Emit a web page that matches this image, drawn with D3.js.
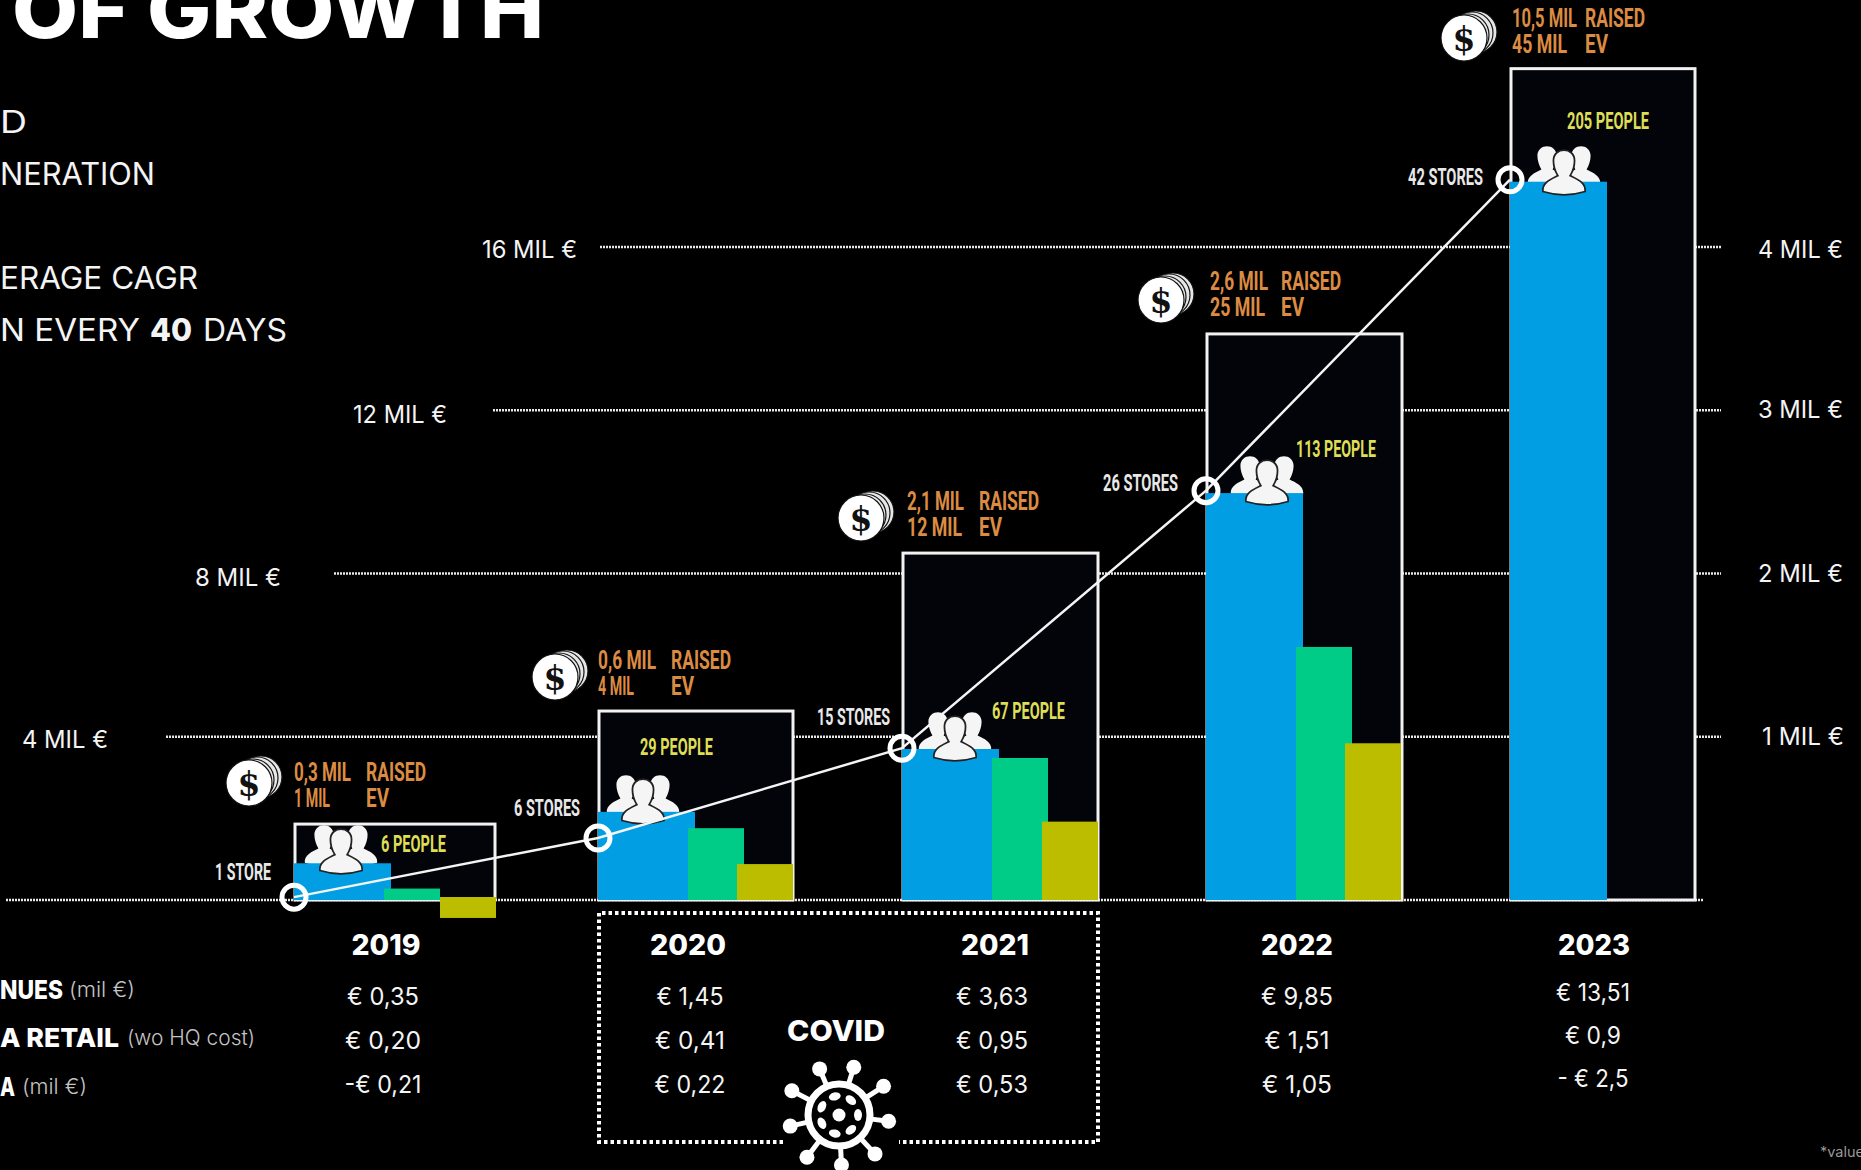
<!DOCTYPE html>
<html><head><meta charset="utf-8">
<script src="https://cdn.jsdelivr.net/npm/d3@7"></script>
<style>html,body{margin:0;padding:0;background:#000;overflow:hidden}svg{display:block}</style>
</head><body><svg id="c" width="1861" height="1170"></svg>
<script>
// ---------- data ----------
const years = ["2019","2020","2021","2022","2023"];
const revenueBar = [0.9,2.16,3.7,9.97,17.6];        // left axis, mil €
const ebitdaRetailBar = [0.07,0.44,0.87,1.55,null]; // right axis, mil €
const ebitdaBar = [-0.11,0.22,0.48,0.96,null];      // right axis, mil €
const evBox = [1.86,4.63,8.5,13.87,20.37];          // box tops on left axis
const storeLine = [0.07,1.52,3.72,10.03,17.65];     // left axis
const stores = ["1 STORE","6 STORES","15 STORES","26 STORES","42 STORES"];
const people = ["6 PEOPLE","29 PEOPLE","67 PEOPLE","113 PEOPLE","205 PEOPLE"];
const raised = ["0,3 MIL","0,6 MIL","2,1 MIL","2,6 MIL","10,5 MIL"];
const ev = ["1 MIL","4 MIL","12 MIL","25 MIL","45 MIL"];
const revenueRow = ["€ 0,35","€ 1,45","€ 3,63","€ 9,85","€ 13,51"];
const retailRow = ["€ 0,20","€ 0,41","€ 0,95","€ 1,51","€ 0,9"];
const ebitdaRow = ["-€ 0,21","€ 0,22","€ 0,53","€ 1,05","- € 2,5"];
const leftTicks = [4,8,12,16];
const rightTicks = [1,2,3,4];

// ---------- layout ----------
const W=1861,H=1170, y0=900;
const C={blue:"#019ee3",green:"#00cc88",olive:"#bdbd00",orange:"#dc8c42",yellow:"#dede55",white:"#f4f4f4"};
const MONT="Inter, 'Open Sans', sans-serif", NARROW="'Liberation Sans Narrow', Roboto, sans-serif";
const x=d3.scalePoint().domain(years).range([294,1510]);
const yL=d3.scaleLinear().domain([0,16]).range([y0,247]);
const yR=d3.scaleLinear().domain([0,4]).range([y0,247]);
const boxW=[200,194,195,195,184];
const blueW=97, greenL=90, greenW=56, oliveL=[146,139,140,139], oliveW=56;
const svg=d3.select("#c");
svg.append("rect").attr("width",W).attr("height",H).attr("fill","#000");

function T(px,py,s,o={}){
  const t=svg.append("text").attr("x",px).attr("y",py).text(s)
    .attr("font-family",o.font||MONT).attr("font-size",o.size||24)
    .attr("font-weight",o.weight||400).attr("fill",o.fill||C.white)
    .attr("text-anchor",o.anchor||"start").attr("dominant-baseline","central");
  if(o.w) t.attr("textLength",o.w).attr("lengthAdjust","spacingAndGlyphs");
  return t;
}

// heading and side text (cut by the page edge, as in the picture)
T(12,9,"OF GROWTH",{size:78,weight:800,w:532,fill:"#fff"});
T(0,121,"D",{size:31,w:27});
T(0,173,"NERATION",{size:31,w:155});
T(0,277,"ERAGE CAGR",{size:31,w:198});
T(0,329,"N EVERY",{size:31,w:140});
T(150,329,"40",{size:31,weight:800,w:42});
T(203,329,"DAYS",{size:31,w:84});

// gridlines
const gridStart={0:6,4:166,8:334,12:493,16:600};
const gridEnd=v=>v===0?1703:1721;
svg.append("g").selectAll("line").data([0,...leftTicks]).join("line")
  .attr("x1",d=>gridStart[d]).attr("x2",gridEnd).attr("y1",d=>yL(d)).attr("y2",d=>yL(d))
  .attr("stroke","#e8e8e8").attr("stroke-width",2.5).attr("stroke-dasharray","2 1");

// left axis labels
const leftLabelEnd={4:108,8:281,12:447,16:577};
const leftLabelDy={4:3,8:4,12:4,16:2};
leftTicks.forEach(v=>T(leftLabelEnd[v],yL(v)+leftLabelDy[v],v+" MIL €",{size:24,anchor:"end",w:{4:86,8:86,12:94,16:95}[v]}));

// right axis
const ax=svg.append("g").attr("transform","translate(1721,0)")
  .call(d3.axisRight(yR).tickValues(rightTicks).tickSize(0).tickPadding(37).tickFormat(d=>d+" MIL €"));
ax.select(".domain").remove();
ax.selectAll("text").attr("font-family",MONT).attr("font-size",24).attr("fill",C.white)
  .attr("textLength",d=>d===1?82:85).attr("lengthAdjust","spacingAndGlyphs")
  .attr("x",d=>d===1?41:37).attr("dy","0.32em")
  .attr("transform",d=>d===4?"translate(0,3)":"");

// EV boxes
svg.append("g").selectAll("rect").data(years).join("rect")
  .attr("x",d=>x(d)+1).attr("width",(d,i)=>boxW[i])
  .attr("y",(d,i)=>yL(evBox[i])).attr("height",(d,i)=>y0-yL(evBox[i]))
  .attr("fill","#03030a").attr("stroke","#f2f2f2").attr("stroke-width",3);

// people, back figures (behind the bars)
const peopleC=[[341,851],[643,801],[955,738],[1267,482],[1564,172]];
function figure(g,cx,cy,s,stroke){
  const f=g.append("g").attr("transform",`translate(${cx},${cy}) scale(${s})`)
    .attr("fill","#f5f5f5").attr("stroke",stroke||"none").attr("stroke-width",stroke?2:0);
  f.append("path").attr("d","M-24,21 C-25,11 -15,7 -7,3 C-10,-2 -12,-8 -12,-14 C-12,-22 -6,-26 0,-26 C6,-26 12,-22 12,-14 C12,-8 10,-2 7,3 C15,7 25,11 24,21 C8,26 -8,26 -24,21Z");
}
const backG=svg.append("g");
peopleC.forEach(([cx,cy])=>{ figure(backG,cx-17,cy-5,0.8); figure(backG,cx+17,cy-5,0.8); });

// bars
svg.append("g").selectAll("rect").data(years).join("rect")
  .attr("x",d=>x(d)).attr("width",blueW)
  .attr("y",(d,i)=>yL(revenueBar[i])).attr("height",(d,i)=>y0-yL(revenueBar[i])).attr("fill",C.blue);
const sub=years.slice(0,4);
svg.append("g").selectAll("rect").data(sub).join("rect")
  .attr("x",d=>x(d)+greenL).attr("width",greenW)
  .attr("y",(d,i)=>yR(ebitdaRetailBar[i])).attr("height",(d,i)=>y0-yR(ebitdaRetailBar[i])).attr("fill",C.green);
svg.append("g").selectAll("rect").data(sub).join("rect")
  .attr("x",(d,i)=>x(d)+oliveL[i]).attr("width",oliveW)
  .attr("y",(d,i)=>i===0?y0-3:yR(ebitdaBar[i]))
  .attr("height",(d,i)=>i===0?yR(ebitdaBar[i])-y0+3:y0-yR(ebitdaBar[i])).attr("fill",C.olive);

// people, front figure
const frontG=svg.append("g");
peopleC.forEach(([cx,cy])=>figure(frontG,cx,cy+1,0.88,"#222"));

// store line
const line=d3.line().x((d,i)=>x(years[i])).y(d=>yL(d));
svg.append("path").attr("d",line(storeLine)).attr("fill","none").attr("stroke","#f4f4f4").attr("stroke-width",2.5);
svg.append("g").selectAll("circle").data(storeLine).join("circle")
  .attr("cx",(d,i)=>x(years[i])).attr("cy",d=>yL(d)).attr("r",12)
  .attr("fill","none").attr("stroke","#fff").attr("stroke-width",5);

// store labels
const storeEnd=[[271,872],[580,808],[890,717],[1178,483],[1483,177]];
const storeW=[56,66,73,75,75];
stores.forEach((s,i)=>T(storeEnd[i][0],storeEnd[i][1],s,{font:NARROW,weight:700,size:23,anchor:"end",w:storeW[i],fill:"#e8e8e8"}));

// people labels
const peopleL=[[381,844,65],[640,747,73],[992,711,73],[1296,449,80],[1567,121,82]];
people.forEach((s,i)=>T(peopleL[i][0],peopleL[i][1],s,{font:NARROW,weight:700,size:23,w:peopleL[i][2],fill:C.yellow}));

// funding labels + coins
const fund=[[294,772,366,57],[598,660,671,58],[907,501,979,57],[1210,281,1281,58],[1512,18,1585,65]];
const evW=[36,36,55,55,55];
const coins=[[249,783],[555,677],[861,518],[1161,300],[1464,38]];
const O={font:NARROW,weight:700,size:26,fill:C.orange};
raised.forEach((s,i)=>{
  const [a,yy,b,w]=fund[i];
  T(a,yy,s,{...O,w}); T(b,yy,"RAISED",{...O,w:60});
  T(a,yy+26,ev[i],{...O,w:evW[i]}); T(b,yy+26,"EV",{...O,w:23});
  const g=svg.append("g").attr("transform",`translate(${coins[i][0]},${coins[i][1]})`);
  [[12,-6],[8,-5],[4,-3]].forEach(([dx,dy])=>g.append("circle").attr("cx",dx).attr("cy",dy).attr("r",21).attr("fill","#e6e6e6").attr("stroke","#111").attr("stroke-width",1.2));
  g.append("circle").attr("r",23).attr("fill","#fff").attr("stroke","#111").attr("stroke-width",1.2);
  g.append("text").text("$").attr("text-anchor","middle").attr("dominant-baseline","central").attr("y",1)
    .attr("font-family","'DejaVu Serif'").attr("font-weight",700).attr("font-size",33).attr("fill","#111");
});

// table
const yearCx=[386,688,995,1297,1594];
const yearW=[69,76,68,72,72];
years.forEach((s,i)=>T(yearCx[i],944,s,{size:29,weight:800,anchor:"middle",w:yearW[i],fill:"#fff"}));
const valCx=[383,690,992,1297,1593];
const rowY=[[996,1040,1084],[996,1040,1084],[996,1040,1084],[996,1040,1084],[992,1035,1078]];
const valW=[[72,76,77],[67,70,71],[72,72,72],[72,65,70],[74,56,71]];
[revenueRow,retailRow,ebitdaRow].forEach((row,r)=>row.forEach((s,i)=>
  T(valCx[i],rowY[i][r],s,{size:24,anchor:"middle",w:valW[i][r]})));

T(0,989,"NUES",{size:26,weight:800,w:63,fill:"#fff"});
T(69,989,"(mil €)",{size:21,weight:300,w:66,fill:"#c4c4c4"});
T(0,1037,"A RETAIL",{size:26,weight:800,w:119,fill:"#fff"});
T(127,1037,"(wo HQ cost)",{size:21,weight:300,w:128,fill:"#c4c4c4"});
T(0,1086,"A",{size:26,weight:800,w:15,fill:"#fff"});
T(22,1086,"(mil €)",{size:21,weight:300,w:65,fill:"#c4c4c4"});

// COVID dotted frame
svg.append("path").attr("d","M783,1142 H599 V913 H1098 V1142 H899")
  .attr("fill","none").attr("stroke","#fff").attr("stroke-width",4).attr("stroke-dasharray","3.5 3");
T(836,1030,"COVID",{size:29,weight:800,anchor:"middle",w:98,fill:"#fff"});

// virus icon
const v=svg.append("g").attr("transform","translate(839,1115)").attr("stroke","#fff").attr("fill","#fff");
v.append("circle").attr("r",31).attr("fill","#000").attr("stroke-width",7);
d3.range(9).forEach(i=>{
  const a=-Math.PI/2+i*2*Math.PI/9+0.3, r1=33, r2=i%2?53:50;
  v.append("line").attr("x1",r1*Math.cos(a)).attr("y1",r1*Math.sin(a)).attr("x2",r2*Math.cos(a)).attr("y2",r2*Math.sin(a)).attr("stroke-width",5);
  v.append("circle").attr("cx",r2*Math.cos(a)).attr("cy",r2*Math.sin(a)).attr("r",7.5).attr("stroke","none");
});
d3.range(7).forEach(i=>{
  const a=i*2*Math.PI/7;
  v.append("ellipse").attr("rx",6).attr("ry",4).attr("stroke","none")
   .attr("transform",`rotate(${a*180/Math.PI+90}) translate(0,-19)`);
});
v.append("circle").attr("r",6.5).attr("stroke","none");

// footnote cut by the page edge
T(1820,1151,"*value",{size:14,w:44,fill:"#999"});
</script></body></html>
